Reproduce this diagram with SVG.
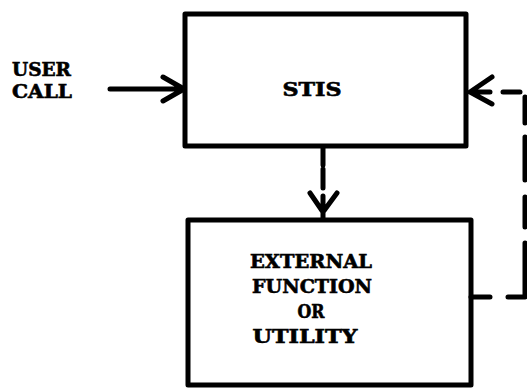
<svg xmlns="http://www.w3.org/2000/svg" width="527" height="390" viewBox="0 0 527 390">
<style>
.box{fill:none;stroke:#000;stroke-width:5;stroke-linejoin:round}
.ln{fill:none;stroke:#000;stroke-width:5;stroke-linecap:round;stroke-linejoin:round}
.t{font-family:"DejaVu Serif","Liberation Serif",serif;font-weight:bold;font-size:18px;fill:#000;stroke:#000;stroke-width:0.6}
</style>
<rect width="527" height="390" fill="#fff"/>
<g id="user-call">
<text class="t" x="12" y="76" textLength="59" lengthAdjust="spacingAndGlyphs">USER</text>
<text class="t" x="12" y="98" textLength="60" lengthAdjust="spacingAndGlyphs">CALL</text>
</g>
<g id="stis">
<rect class="box" x="185" y="14" width="281" height="132"/>
<text class="t" x="312" y="96" text-anchor="middle" textLength="59" lengthAdjust="spacingAndGlyphs">STIS</text>
</g>
<g id="external">
<rect class="box" x="188" y="220" width="283" height="165"/>
<text class="t" x="311" y="268" text-anchor="middle" textLength="122" lengthAdjust="spacingAndGlyphs">EXTERNAL</text>
<text class="t" x="312" y="293" text-anchor="middle" textLength="120" lengthAdjust="spacingAndGlyphs">FUNCTION</text>
<text class="t" x="311" y="318" text-anchor="middle" textLength="27" lengthAdjust="spacingAndGlyphs">OR</text>
<text class="t" x="305" y="343" text-anchor="middle" textLength="105" lengthAdjust="spacingAndGlyphs">UTILITY</text>
</g>
<g id="connectors">
<path class="ln" d="M110 89 H184 M163 77 L184 89 L163 101"/>
<path class="ln" d="M323 148 V165 M323 169 V188 M323 196 V219 M310 193 L323 212 L337 193"/>
<path class="ln" d="M471 297 H490 M508 297 H525 V243 M525 227 V197 M525 180 V137 M525 123 V97 M520 92 H503 M490 92 H470 M492 77 L470 92 L492 104"/>
</g>
</svg>
